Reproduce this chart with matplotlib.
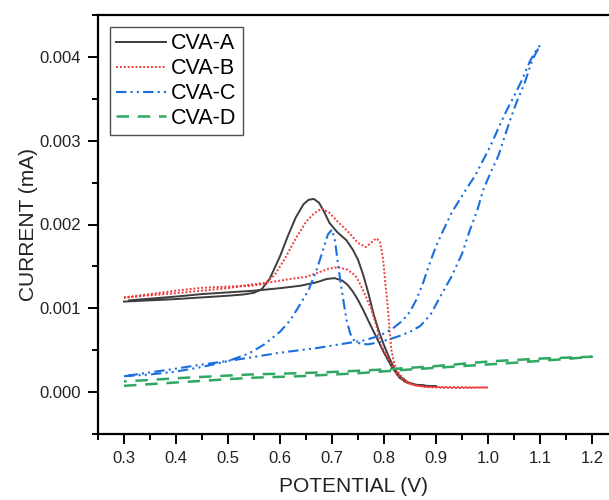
import matplotlib
matplotlib.use("Agg")
import matplotlib.pyplot as plt
from matplotlib.ticker import MultipleLocator, FormatStrFormatter

plt.rcParams['font.family'] = ['Liberation Sans', 'DejaVu Sans']

# ---------------- data (potential in V, current in mA) ----------------
a_x = [0.30, 0.35, 0.40, 0.45, 0.50, 0.53, 0.55, 0.565, 0.58, 0.60, 0.615, 0.63, 0.645, 0.655, 0.665,
       0.675, 0.685, 0.695, 0.71, 0.728, 0.74, 0.75, 0.76, 0.77, 0.78, 0.79, 0.80, 0.81, 0.82, 0.83,
       0.845, 0.86, 0.88, 0.90,
       0.88, 0.86, 0.845, 0.83, 0.815, 0.80, 0.785, 0.77, 0.76, 0.75, 0.74, 0.73, 0.72, 0.705, 0.69,
       0.67, 0.64, 0.60, 0.55, 0.50, 0.45, 0.40, 0.35, 0.31]
a_y = [0.00108, 0.001095, 0.00111, 0.00113, 0.00115, 0.001165, 0.001185, 0.00123, 0.00135, 0.00162,
       0.00186, 0.00208, 0.00224, 0.002295, 0.002305, 0.00226, 0.00215, 0.00202, 0.00191, 0.00181,
       0.00170, 0.00158, 0.00140, 0.00118, 0.00093, 0.00073, 0.00056, 0.00041, 0.00028, 0.00019,
       0.00012, 0.00009, 0.000075, 0.00007,
       0.000075, 0.000085, 0.00011, 0.00017, 0.00030, 0.00047, 0.00066, 0.00085, 0.00098, 0.00110,
       0.00120, 0.00128, 0.00133, 0.00136, 0.00135, 0.00131, 0.00127, 0.00124, 0.00121, 0.00119,
       0.00117, 0.00114, 0.001115, 0.001095]

b_x = [0.30, 0.35, 0.40, 0.45, 0.50, 0.54, 0.57, 0.59, 0.61, 0.63, 0.65, 0.665, 0.68, 0.695, 0.71,
       0.73, 0.75, 0.765, 0.775, 0.785, 0.792, 0.798, 0.802, 0.806, 0.81, 0.814, 0.82, 0.83, 0.845,
       0.86, 0.88, 0.92, 0.96, 1.00,
       0.96, 0.92, 0.88, 0.86, 0.84, 0.825, 0.81, 0.795, 0.785, 0.775, 0.765, 0.755, 0.745, 0.73,
       0.712, 0.695, 0.675, 0.65, 0.62, 0.58, 0.54, 0.50, 0.45, 0.40, 0.35, 0.30]
b_y = [0.00113, 0.00117, 0.00121, 0.001245, 0.00126, 0.001265, 0.00129, 0.00140, 0.00160, 0.00183,
       0.00203, 0.00213, 0.00219, 0.00214, 0.00204, 0.00192, 0.00178, 0.00173, 0.00178, 0.001835,
       0.00180, 0.00160, 0.00134, 0.00110, 0.00080, 0.00051, 0.00033, 0.00021, 0.00012, 0.00008,
       0.00006, 0.00005, 0.00005, 0.000055,
       0.000058, 0.00006, 0.000065, 0.00008, 0.00012, 0.00022, 0.00038, 0.00055, 0.00080, 0.00100,
       0.00114, 0.00128, 0.00139, 0.00146, 0.00149, 0.001475, 0.00143, 0.001375, 0.00135, 0.00131,
       0.00128, 0.00124, 0.00121, 0.00118, 0.001155, 0.001125]

c_x = [0.30, 0.35, 0.40, 0.45, 0.50, 0.54, 0.57, 0.60, 0.62, 0.64, 0.655, 0.67, 0.682, 0.692, 0.70,
       0.706, 0.712, 0.718, 0.723, 0.728, 0.735, 0.742, 0.755, 0.77, 0.79, 0.81, 0.83, 0.85, 0.87,
       0.89, 0.91, 0.93, 0.95, 0.965, 0.98, 0.99, 1.005, 1.02, 1.04, 1.055, 1.07, 1.085, 1.10,
       1.09, 1.08, 1.065, 1.05, 1.035, 1.02, 1.005, 0.99, 0.975, 0.96, 0.946, 0.93, 0.914, 0.90,
       0.888, 0.875, 0.862, 0.85, 0.835, 0.815, 0.80, 0.78, 0.76, 0.735, 0.70, 0.67, 0.638, 0.60,
       0.56, 0.52, 0.48, 0.44, 0.40, 0.35, 0.30]
c_y = [0.00019, 0.00021, 0.000245, 0.00030, 0.00037, 0.00046, 0.00057, 0.00072, 0.00086, 0.00106,
       0.00122, 0.00145, 0.00168, 0.00188, 0.00194, 0.00180, 0.00150, 0.00125, 0.00105, 0.00086,
       0.00070, 0.00062, 0.000575, 0.00057, 0.000595, 0.00063, 0.00067, 0.00072, 0.00079, 0.00093,
       0.00116, 0.00138, 0.00165, 0.00193, 0.00218, 0.00240, 0.00262, 0.00282, 0.00320, 0.00346,
       0.00368, 0.00396, 0.00414,
       0.00405, 0.00394, 0.00372, 0.00353, 0.00335, 0.00315, 0.00294, 0.00276, 0.00258, 0.00244,
       0.00230, 0.00214, 0.00193, 0.00174, 0.00154, 0.00130, 0.00110, 0.00096, 0.00085, 0.00075,
       0.00070, 0.00065, 0.000615, 0.00059, 0.000555, 0.000525, 0.00050, 0.00047, 0.00043, 0.00039,
       0.000355, 0.00032, 0.00028, 0.000235, 0.00019]

d_x = [0.30, 0.35, 0.40, 0.465, 0.54, 0.64, 0.75, 0.85, 0.95, 1.05, 1.15, 1.20,
       1.10, 1.00, 0.90, 0.80, 0.70, 0.638, 0.542, 0.465, 0.40, 0.35, 0.30]
d_y = [0.000075, 0.000095, 0.000115, 0.00014, 0.00017, 0.00019, 0.000225, 0.00027, 0.00031, 0.00035,
       0.000395, 0.000422,
       0.00040, 0.000365, 0.00031, 0.00027, 0.00024, 0.000226, 0.00021, 0.000186, 0.000165,
       0.000145, 0.000127]

labels = ["CVA-A", "CVA-B", "CVA-C", "CVA-D"]
x_ticks = [0.3, 0.4, 0.5, 0.6, 0.7, 0.8, 0.9, 1.0, 1.1, 1.2]
y_ticks = [0.000, 0.001, 0.002, 0.003, 0.004]

# ---------------- figure ----------------
fig = plt.figure(figsize=(6.09, 5.0), dpi=100)
ax = fig.add_axes([98/609, 66/500, 511/609, 419/500])

ax.plot(a_x, a_y, color='#3d3d3d', lw=1.4, ls='-', label=labels[0])
ax.plot(b_x, b_y, color='#f03c3c', lw=1.4, ls=(0, (1, 1)), label=labels[1])
ax.plot(c_x, c_y, color='#1a6fe0', lw=1.5, ls=(0, (5, 2, 1, 2, 1, 2)), label=labels[2])
ax.plot(d_x, d_y, color='#2ea862', lw=1.8, ls=(0, (5, 3.5)), label=labels[3])

ax.set_xticks(x_ticks)
ax.set_yticks(y_ticks)
ax.xaxis.set_minor_locator(MultipleLocator(0.05))
ax.yaxis.set_minor_locator(MultipleLocator(0.0005))
ax.xaxis.set_major_formatter(FormatStrFormatter('%.1f'))
ax.yaxis.set_major_formatter(FormatStrFormatter('%.3f'))

ax.set_xlim(0.25, 1.2327)
ax.set_ylim(-0.0005, 0.0045)

ax.tick_params(axis='both', which='major', direction='out', length=7, width=1.4,
               labelsize=12, colors='black', pad=5)
ax.tick_params(axis='both', which='minor', direction='out', length=4, width=1.4)
ax.tick_params(axis='x', labelcolor='#222222')
ax.tick_params(axis='y', labelcolor='#222222')

for s in ['left', 'bottom', 'top']:
    ax.spines[s].set_linewidth(1.6)
ax.spines['right'].set_visible(False)

ax.set_xlabel('POTENTIAL (V)', fontsize=15, color='#222222', labelpad=8)
ax.set_ylabel('CURRENT (mA)', fontsize=15, color='#222222', labelpad=1)

leg = ax.legend(loc='upper left', fontsize=15.5, frameon=True, fancybox=False,
                edgecolor='#222222', handlelength=2.3, handletextpad=0.25,
                labelspacing=0.18, borderpad=0.3, borderaxespad=0.55)
leg.get_frame().set_linewidth(1.0)

fig.savefig('out.png', dpi=100)
